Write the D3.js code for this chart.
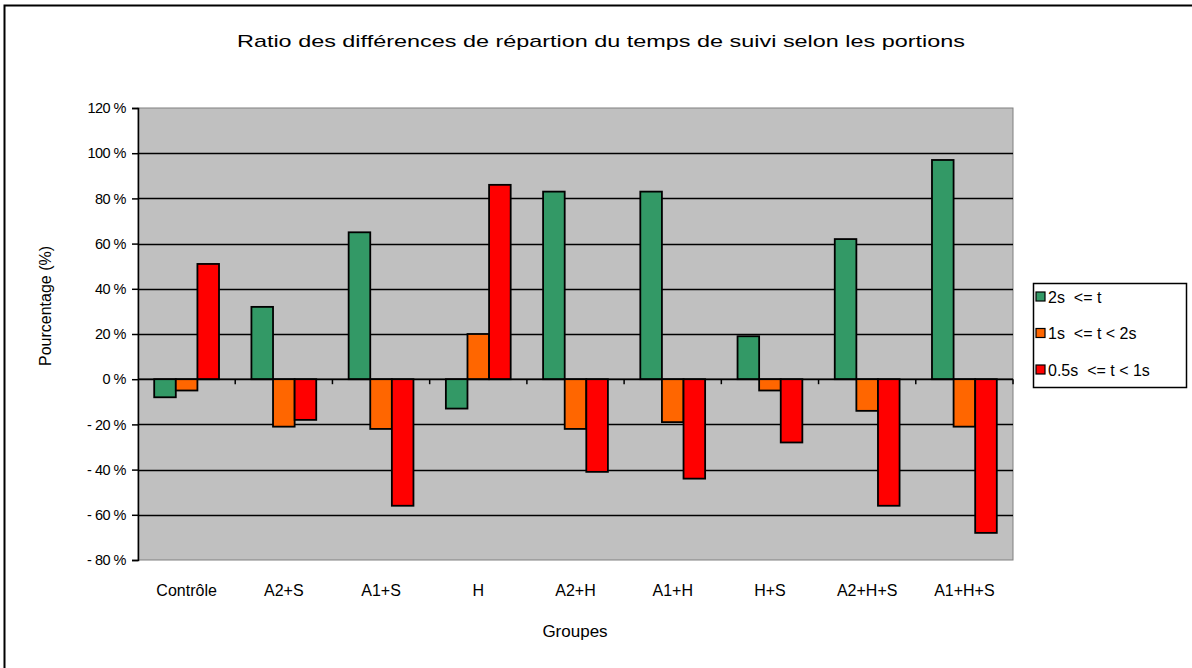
<!DOCTYPE html>
<html>
<head>
<meta charset="utf-8">
<script src="https://cdn.jsdelivr.net/npm/d3@7"></script>
<style>
  body { margin: 0; background: #fff; }
  text { font-family: "Liberation Sans", Arial, sans-serif; fill: #000; }
</style>
</head>
<body>
<div id="chart"></div>
<script>
const groups = ["Contrôle", "A2+S", "A1+S", "H", "A2+H", "A1+H", "H+S", "A2+H+S", "A1+H+S"];
const seriesNames = ["2s  <= t", "1s  <= t < 2s", "0.5s  <= t < 1s"];
const seriesColors = ["#339966", "#ff6600", "#ff0000"];
// values in %
const longFollow = [-8, 32, 65, -13, 83, 83, 19, 62, 97];
const midFollow = [-5, -21, -22, 20, -22, -19, -5, -14, -21];
const shortFollow = [51, -18, -56, 86, -41, -44, -28, -56, -68];
const yTicks = [-80, -60, -40, -20, 0, 20, 40, 60, 80, 100, 120];

const series = [longFollow, midFollow, shortFollow];

window.onload = () => {
  const W = 1192, H = 668;
  const plot = { left: 138, right: 1013, top: 108, bottom: 560 };

  const svg = d3
    .select("#chart")
    .append("svg")
    .attr("width", W)
    .attr("height", H);

  // outer chart frame (only top and left edges visible)
  svg
    .append("rect")
    .attr("x", 4.5)
    .attr("y", 5.5)
    .attr("width", W + 20)
    .attr("height", H + 20)
    .attr("fill", "none")
    .attr("stroke", "#000")
    .attr("stroke-width", 2);

  const x = d3
    .scaleBand()
    .domain(groups)
    .range([plot.left, plot.right])
    .paddingInner(0)
    .paddingOuter(0);
  // 3 bars + gap of 1.5 bar widths per category
  const barW = x.bandwidth() / 4.5;
  const xs = d3
    .scaleBand()
    .domain(d3.range(series.length))
    .range([barW * 0.75, barW * 3.75]);

  const y = d3.scaleLinear().domain([-80, 120]).range([plot.bottom, plot.top]);

  // plot background
  svg
    .append("rect")
    .attr("x", plot.left)
    .attr("y", plot.top)
    .attr("width", plot.right - plot.left)
    .attr("height", plot.bottom - plot.top)
    .attr("fill", "#c0c0c0")
    .attr("stroke", "#808080")
    .attr("stroke-width", 1);

  // gridlines
  svg
    .append("g")
    .selectAll("line")
    .data(yTicks.filter(d => d > -80 && d < 120))
    .enter()
    .append("line")
    .attr("x1", plot.left)
    .attr("x2", plot.right)
    .attr("y1", d => Math.round(y(d)) + 0.5)
    .attr("y2", d => Math.round(y(d)) + 0.5)
    .attr("stroke", "#000")
    .attr("stroke-width", 1.5);

  // bars
  const gGroup = svg
    .append("g")
    .selectAll("g")
    .data(groups)
    .enter()
    .append("g")
    .attr("transform", d => `translate(${x(d)},0)`);

  gGroup
    .selectAll("rect")
    .data((d, i) => series.map((s, k) => ({ k, v: s[i] })))
    .enter()
    .append("rect")
    .attr("x", d => xs(d.k))
    .attr("width", xs.bandwidth())
    .attr("y", d => y(Math.max(0, d.v)))
    .attr("height", d => Math.abs(y(d.v) - y(0)))
    .attr("fill", d => seriesColors[d.k])
    .attr("stroke", "#000")
    .attr("stroke-width", 1.8);

  // y axis
  const yAxis = d3
    .axisLeft(y)
    .tickValues(yTicks)
    .tickSize(6)
    .tickPadding(6)
    .tickFormat(d => `${d} %`);
  const gy = svg
    .append("g")
    .attr("transform", `translate(${plot.left},0)`)
    .call(yAxis);
  gy.select(".domain").attr("stroke", "#000").attr("stroke-width", 1.5);
  gy.selectAll(".tick line").attr("stroke", "#000").attr("stroke-width", 1.5);
  gy.selectAll(".tick text")
    .style("font-size", "14.5px")
    .style("letter-spacing", "-0.5px")
    .text(d => (d < 0 ? `- ${-d} %` : `${d} %`));

  // x axis on the zero line, tick marks at category borders
  svg
    .append("line")
    .attr("x1", plot.left)
    .attr("x2", plot.right)
    .attr("y1", y(0))
    .attr("y2", y(0))
    .attr("stroke", "#000")
    .attr("stroke-width", 1.5);
  svg
    .append("g")
    .selectAll("line")
    .data(groups.slice(1).concat(["end"]))
    .enter()
    .append("line")
    .attr("x1", (d, i) => plot.left + x.step() * (i + 1))
    .attr("x2", (d, i) => plot.left + x.step() * (i + 1))
    .attr("y1", y(0))
    .attr("y2", y(0) + 5)
    .attr("stroke", "#000")
    .attr("stroke-width", 1.5);

  // category labels
  svg
    .append("g")
    .selectAll("text")
    .data(groups)
    .enter()
    .append("text")
    .attr("x", d => x(d) + x.bandwidth() / 2)
    .attr("y", 596)
    .attr("text-anchor", "middle")
    .style("font-size", "16px")
    .text(d => d);

  // title and axis titles
  svg
    .append("text")
    .attr("x", 601)
    .attr("y", 47)
    .attr("text-anchor", "middle")
    .attr("textLength", 728)
    .attr("lengthAdjust", "spacingAndGlyphs")
    .style("font-size", "17px")
    .text("Ratio des différences de répartion du temps de suivi selon les portions");

  svg
    .append("text")
    .attr("x", 575)
    .attr("y", 637)
    .attr("text-anchor", "middle")
    .style("font-size", "17px")
    .text("Groupes");

  svg
    .append("text")
    .attr("transform", "translate(51,306) rotate(-90)")
    .attr("text-anchor", "middle")
    .style("font-size", "16px")
    .text("Pourcentage (%)");

  // legend
  const legend = svg.append("g").attr("transform", "translate(1033,283)");
  legend
    .append("rect")
    .attr("x", 0.5)
    .attr("y", 0.5)
    .attr("width", 153)
    .attr("height", 104)
    .attr("fill", "#fff")
    .attr("stroke", "#000")
    .attr("stroke-width", 1.5);
  const item = legend
    .selectAll("g.item")
    .data(seriesNames)
    .enter()
    .append("g")
    .classed("item", true)
    .attr("transform", (d, i) => `translate(0,${14 + i * 36.5})`);
  item
    .append("rect")
    .attr("x", 3)
    .attr("y", -5)
    .attr("width", 9)
    .attr("height", 9)
    .attr("fill", (d, i) => seriesColors[i])
    .attr("stroke", "#000")
    .attr("stroke-width", 1.2);
  item
    .append("text")
    .attr("x", 15)
    .attr("y", 5.5)
    .style("font-size", "16px")
    .style("white-space", "pre")
    .text(d => d);
};
</script>
</body>
</html>
